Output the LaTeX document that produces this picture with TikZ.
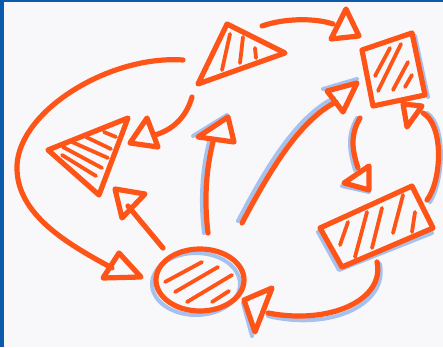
\documentclass[tikz,border=0pt]{standalone}
\usetikzlibrary{calc}
\definecolor{ink}{RGB}{255,84,24}
\definecolor{shade}{RGB}{110,158,230}
\definecolor{paper}{RGB}{248,248,250}
\definecolor{frame}{RGB}{12,90,170}
\begin{document}
\begin{tikzpicture}[x=1pt,y=-1pt,
  ink/.style={draw=ink,line width=5.2pt,line cap=round,line join=round},
  hatch/.style={draw=ink,line width=3.8pt,line cap=round},
  shadow/.style={draw=shade,line width=4pt,line cap=round,line join=round,opacity=0.6},
  headtri/.style={ink}]
% paper and frame
\fill[paper] (0,0) rectangle (443,347);
\fill[frame] (0,0) rectangle (4,347);
\fill[frame] (0,0) rectangle (443,2);
\useasboundingbox (0,0) rectangle (443,347);

% named points
\coordinate (aS) at (262,26);  \coordinate (aE) at (333,24);
\coordinate (bS) at (192,97);  \coordinate (bE) at (155,135);
\coordinate (cS) at (183,60);  \coordinate (cM) at (17,165); \coordinate (cE) at (112,268);
\coordinate (dS) at (163,248); \coordinate (dE) at (128,206);
\coordinate (eS) at (208,233); \coordinate (eE) at (213,142);
\coordinate (fS) at (242,223); \coordinate (fE) at (336,102);
\coordinate (gS) at (427,200); \coordinate (gE) at (423,113);
\coordinate (hS) at (360,118); \coordinate (hE) at (358,168);
\coordinate (iS) at (377,262); \coordinate (iE) at (268,313);

% ---- blue shadows ----
\draw[shadow] ($(200,280)+(-4,4)$) ellipse [x radius=44, y radius=31];
\draw[shadow] ($(eS)+(-4,0)$) .. controls ($(204,200)+(-4,0)$) and ($(206,170)+(-4,0)$) .. ($(eE)+(-4,0)$);
\draw[shadow] (193,136) -- (227,115);
\draw[shadow] ($(fS)+(-4,-2)$) .. controls ($(270,170)+(-4,-3)$) and ($(300,120)+(-3,-4)$) .. ($(fE)+(-2,-4)$);
\draw[shadow] (323,89) -- (357,79);
\draw[shadow] (415,36) -- (428,97);
\draw[shadow] ($(gS)+(3,2)$) .. controls ($(440,180)+(4,0)$) and ($(442,125)+(4,0)$) .. ($(gE)+(4,0)$);
\draw[shadow] ($(hS)+(-3,0)$) .. controls ($(350,135)+(-3,0)$) and ($(352,150)+(-3,0)$) .. ($(hE)+(-3,2)$);
\draw[shadow] (342,186) -- (369,192);
\draw[shadow] (318,232) -- (339,270) -- (432,233);
\draw[shadow] ($(iS)+(3,2)$) .. controls ($(385,302)+(3,3)$) and ($(330,328)+(0,3)$) .. ($(iE)+(0,3)$);
\draw[shadow] (252,336) -- (243,303);

% ---- shapes ----
% top triangle
\draw[ink] (227,24) -- (285,53) -- (198,84) -- cycle;
\draw[hatch] (230,34) -- (222,70);
\draw[hatch] (243,37) -- (240,63);
\draw[hatch] (255,48) -- (256,58);
% top right square
\draw[ink] (362,50) -- (412,33) -- (425,95) -- (373,106) -- cycle;
\draw[hatch] (375,76) -- (390,48);
\draw[hatch] (378,91) -- (401,44);
\draw[hatch] (393,90) -- (408,62);
\draw[hatch] (405,87) -- (412,75);
% left triangle
\draw[ink] (48,150) -- (128,118) -- (99,195) -- cycle;
\draw[hatch] (62,155) -- (96,176);
\draw[hatch] (63,147) -- (102,168);
\draw[hatch] (72,142) -- (108,158);
\draw[hatch] (86,137) -- (111,149);
\draw[hatch] (104,132) -- (116,137);
% ellipse
\draw[ink] (200,280) ellipse [x radius=44, y radius=31];
\draw[hatch] (165,282) -- (202,262);
\draw[hatch] (175,292) -- (218,267);
\draw[hatch] (187,302) -- (232,275);
\draw[hatch] (212,302) -- (229,291);
% lower right rectangle
\draw[ink] (320,228) -- (412,186) -- (433,228) -- (342,267) -- cycle;
\draw[hatch] (340,245) -- (348,222);
\draw[hatch] (355,257) -- (367,212);
\draw[hatch] (372,248) -- (382,208);
\draw[hatch] (393,233) -- (403,195);
\draw[hatch] (412,232) -- (415,212);

% ---- connectors ----
% a
\draw[ink] (aS) .. controls (285,18) and (315,18) .. (aE);
\draw[headtri] (346,9) -- (359,36) -- (331,39) -- cycle;
% b
\draw[ink] (bS) .. controls (186,118) and (172,130) .. (bE);
\draw[headtri] (147,118) -- (158,147) -- (130,143) -- cycle;
% c
\draw[ink] (cS) .. controls (110,55) and (20,110) .. (cM) .. controls (15,215) and (70,245) .. (cE);
\draw[headtri] (119,253) -- (141,277) -- (103,278) -- cycle;
% d
\draw[ink] (dS) -- (dE);
\draw[headtri] (115,189) -- (145,194) -- (122,218) -- cycle;
% e
\draw[ink] (eS) .. controls (204,200) and (206,170) .. (eE);
\draw[headtri] (228,117) -- (234,142) -- (198,137) -- cycle;
% f
\draw[ink] (fS) .. controls (270,170) and (300,120) .. (fE);
\draw[headtri] (357,83) -- (343,112) -- (327,91) -- cycle;
% g
\draw[ink] (gS) .. controls (442,180) and (444,125) .. (gE);
\draw[headtri] (403,104) -- (422,106) -- (407,127) -- cycle;
% h
\draw[ink] (hS) .. controls (350,135) and (352,150) .. (hE);
\draw[headtri] (369,166) -- (369,190) -- (344,183) -- cycle;
% i
\draw[ink] (iS) .. controls (385,300) and (330,325) .. (iE);
\draw[headtri] (272,288) -- (255,332) -- (244,300) -- cycle;
\end{tikzpicture}
\end{document}
